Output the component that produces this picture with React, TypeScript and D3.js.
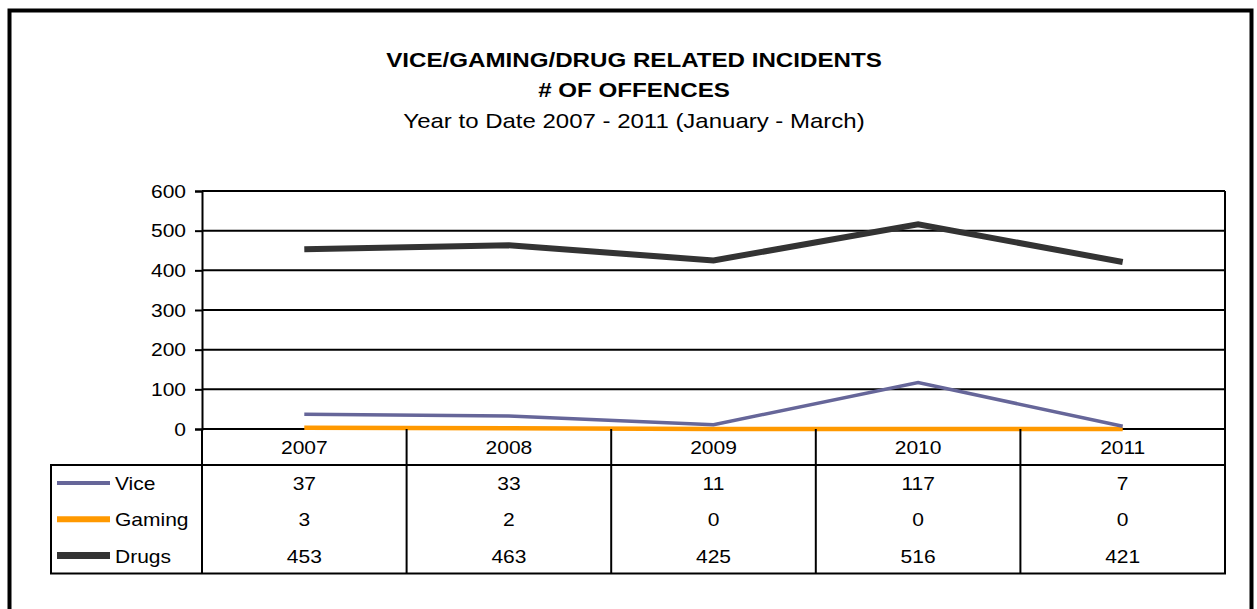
import React, { useEffect, useRef } from 'react';
import * as d3 from 'd3';

const years = ['2007', '2008', '2009', '2010', '2011'];
const vice = [37, 33, 11, 117, 7];
const gaming = [3, 2, 0, 0, 0];
const drugs = [453, 463, 425, 516, 421];
const yTicks = [0, 100, 200, 300, 400, 500, 600];

const seriesList = [
  { name: 'Vice', values: vice, color: '#666699', width: 3.5, keyWidth: 4 },
  { name: 'Gaming', values: gaming, color: '#FF9900', width: 4.5, keyWidth: 6 },
  { name: 'Drugs', values: drugs, color: '#333333', width: 6, keyWidth: 7 },
];

const App: React.FC = () => {
  const svgRef = useRef<SVGSVGElement>(null);
  const width = 1257;
  const height = 609;

  useEffect(() => {
    if (!svgRef.current) return;
    const svg = d3.select(svgRef.current);
    svg.selectAll('*').remove();

    const font = 'Liberation Sans, Arial, sans-serif';
    const left = 202;
    const right = 1225;
    const top = 191;
    const bottom = 429;
    const tableLeft = 51;
    const catRowBottom = 465;
    const rowH = 36.2;
    const tableBottom = catRowBottom + rowH * 3;

    // the source picture is stretched sideways, so text gets a horizontal scale
    const label = (
      parent: d3.Selection<any, unknown, null, undefined>,
      x: number, y: number, txt: string,
      opts: { size?: number; bold?: boolean; anchor?: string; sx?: number } = {}
    ) => {
      const { size = 17.5, bold = false, anchor = 'middle', sx = 1.2 } = opts;
      return parent.append('text')
        .attr('transform', `translate(${x},${y}) scale(${sx},1)`)
        .attr('text-anchor', anchor)
        .style('font-family', font)
        .style('font-size', `${size}px`)
        .style('font-weight', bold ? 'bold' : 'normal')
        .attr('fill', '#000')
        .text(txt);
    };

    // outer frame
    svg.append('rect')
      .attr('x', 9.5).attr('y', 10.5)
      .attr('width', 1242).attr('height', 640)
      .attr('fill', '#fff').attr('stroke', '#000').attr('stroke-width', 4);

    // titles
    const cx = 634;
    label(svg, cx, 67, 'VICE/GAMING/DRUG RELATED INCIDENTS', { size: 21, bold: true, sx: 1.15 });
    label(svg, cx, 97, '# OF OFFENCES', { size: 21, bold: true, sx: 1.15 });
    label(svg, cx, 128, 'Year to Date 2007 - 2011 (January - March)', { size: 20, sx: 1.2 });

    const xScale = d3.scaleBand().domain(years).range([left, right]);
    const yScale = d3.scaleLinear().domain([0, 600]).range([bottom, top]);

    const g = svg.append('g');

    // gridlines
    g.selectAll('.grid')
      .data(yTicks)
      .enter()
      .append('line')
      .attr('x1', left).attr('x2', right)
      .attr('y1', d => yScale(d)).attr('y2', d => yScale(d))
      .attr('stroke', '#000').attr('stroke-width', 2);

    // y axis
    const yAxis = g.append('g')
      .attr('transform', `translate(${left},0)`)
      .call(d3.axisLeft(yScale).tickValues(yTicks).tickSize(7).tickFormat(() => ''));
    yAxis.select('.domain').attr('stroke-width', 2);
    yAxis.selectAll('line').attr('stroke-width', 2);
    yTicks.forEach(v => {
      label(g, 186, yScale(v) + 6.5, String(v), { anchor: 'end' });
    });

    // right border
    g.append('line').attr('x1', right).attr('x2', right).attr('y1', top).attr('y2', bottom)
      .attr('stroke', '#000').attr('stroke-width', 2);

    // lines
    const line = d3.line<number>()
      .x((_, i) => (xScale(years[i]) || 0) + xScale.bandwidth() / 2)
      .y(d => yScale(d));

    const drawOrder = [seriesList[1], seriesList[0], seriesList[2]];
    drawOrder.forEach(s => {
      g.append('path')
        .datum(s.values)
        .attr('d', line)
        .attr('fill', 'none')
        .attr('stroke', s.color)
        .attr('stroke-width', s.width)
        .attr('stroke-linejoin', 'miter');
    });

    // data table
    const t = svg.append('g');
    const stroke = (x1: number, y1: number, x2: number, y2: number) =>
      t.append('line').attr('x1', x1).attr('y1', y1).attr('x2', x2).attr('y2', y2)
        .attr('stroke', '#000').attr('stroke-width', 2);

    stroke(tableLeft - 1, catRowBottom, right + 1, catRowBottom);
    stroke(tableLeft - 1, tableBottom, right + 1, tableBottom);
    stroke(tableLeft, catRowBottom, tableLeft, tableBottom);
    years.forEach(y => {
      const x0 = xScale(y) || 0;
      stroke(x0, bottom, x0, tableBottom);
    });
    stroke(right, bottom, right, tableBottom);

    years.forEach(y => {
      label(t, (xScale(y) || 0) + xScale.bandwidth() / 2, 454, y);
    });

    seriesList.forEach((s, r) => {
      const cy = catRowBottom + rowH * r + rowH / 2;
      t.append('line')
        .attr('x1', 57).attr('x2', 110)
        .attr('y1', cy).attr('y2', cy)
        .attr('stroke', s.color).attr('stroke-width', s.keyWidth);
      label(t, 115, cy + 7, s.name, { anchor: 'start' });
      s.values.forEach((v, i) => {
        label(t, (xScale(years[i]) || 0) + xScale.bandwidth() / 2, cy + 7, String(v));
      });
    });
  }, []);

  return (
    <svg
      ref={svgRef}
      width={width}
      height={height}
      style={{ position: 'absolute', left: 0, top: 0, background: '#fff' }}
    />
  );
};

export default App;
